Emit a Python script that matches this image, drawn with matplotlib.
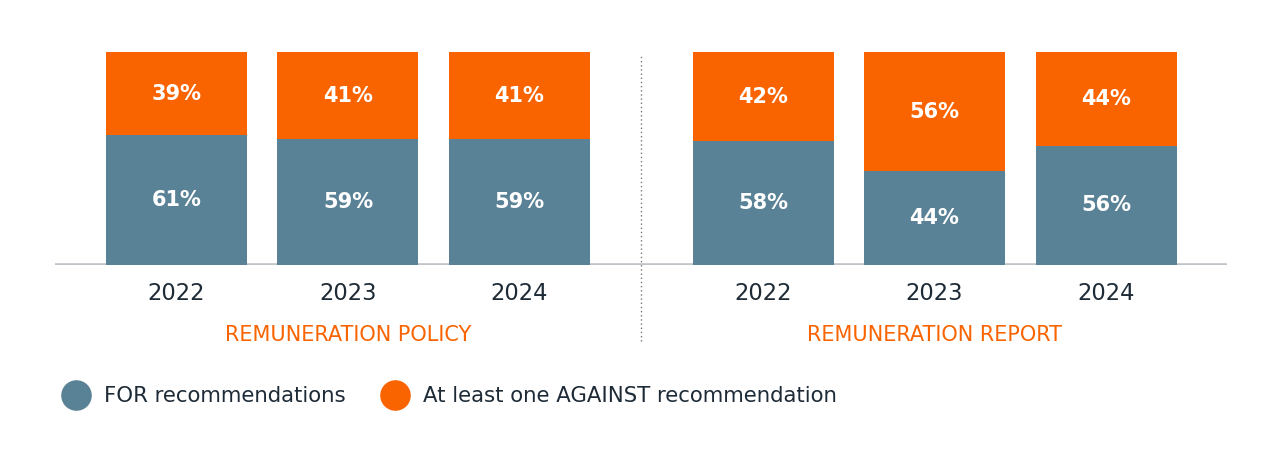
import matplotlib.pyplot as plt
from matplotlib.lines import Line2D

plt.rcParams['font.family'] = ['DejaVu Sans']

years = ["2022", "2023", "2024"]
groups = ["REMUNERATION POLICY", "REMUNERATION REPORT"]
for_pct = [[61, 59, 59], [58, 44, 56]]
against_pct = [[39, 41, 41], [42, 56, 44]]
legend_labels = ["FOR recommendations", "At least one AGAINST recommendation"]

blue = "#5A8296"
orange = "#F96400"
dark = "#1E2B36"

fig = plt.figure(figsize=(12.8, 4.5), dpi=100)
W, H = 1280, 450
ax = fig.add_axes([55 / W, (H - 265) / H, (1227 - 55) / W, (265 - 52) / H])

group_gap = 1.42
xs = []
for g in range(len(groups)):
    pos = [g * (len(years) - 1 + group_gap) + i for i in range(len(years))]
    xs.append(pos)
    ax.bar(pos, for_pct[g], width=0.822, color=blue)
    ax.bar(pos, against_pct[g], bottom=for_pct[g], width=0.822, color=orange)
    for i, x in enumerate(pos):
        f, a = for_pct[g][i], against_pct[g][i]
        ax.text(x, f / 2, f"{f}%", ha="center", va="center", color="white",
                fontsize=15, fontweight="semibold")
        ax.text(x, f + a / 2, f"{a}%", ha="center", va="center", color="white",
                fontsize=15, fontweight="semibold")
        ax.text(x, -13.5, years[i], ha="center", va="center", color=dark,
                fontsize=16.3)
    ax.text(sum(pos) / len(pos), -33, groups[g], ha="center", va="center",
            color=orange, fontsize=15)

ax.set_xlim(-0.708, 6.125)
ax.set_ylim(0, 100)
ax.axis("off")
ax.axhline(0, color="#BFC4C9", lw=2.6, zorder=0)

# dotted divider between the two groups
mid = (xs[0][-1] + xs[1][0]) / 2
ax.plot([mid, mid], [-35.5, 98.5], color="#777777", lw=1, ls=(0, (1, 2)),
        clip_on=False)

handles = [Line2D([], [], marker="o", ls="", markersize=21, color=c)
           for c in (blue, orange)]
fig.legend(handles, legend_labels, loc="center left",
           bbox_to_anchor=(44 / W, (H - 396) / H), ncol=2, frameon=False,
           fontsize=15.3, labelcolor=dark, handletextpad=0.7, columnspacing=1.77,
           handlelength=1.2)

fig.savefig("out.png", dpi=100)
